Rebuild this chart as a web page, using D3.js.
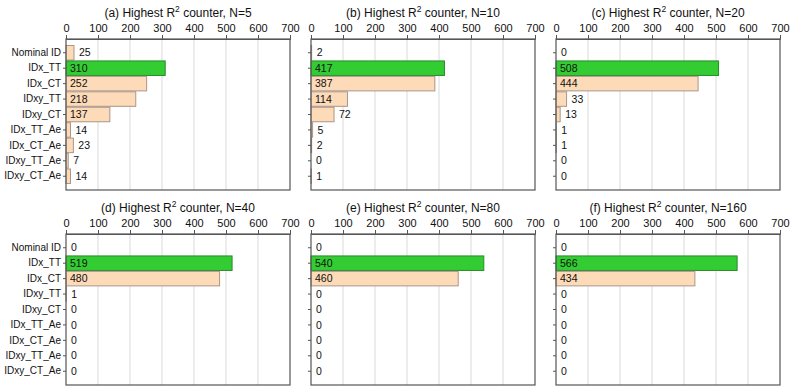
<!DOCTYPE html>
<html>
<head>
  <script src="https://d3js.org/d3.v7.min.js"></script>
  <style>
    body { margin: 0; background: #fff; }
    text { font-family: "Liberation Sans", Arial, sans-serif; fill: #111; }
  </style>
</head>
<body>
  <div id="chart"></div>
  <script>
    var categories = ["Nominal ID", "IDx_TT", "IDx_CT", "IDxy_TT", "IDxy_CT",
                      "IDx_TT_Ae", "IDx_CT_Ae", "IDxy_TT_Ae", "IDxy_CT_Ae"];
    var panelTitles = ["(a)", "(b)", "(c)", "(d)", "(e)", "(f)"];
    var panelN = [5, 10, 20, 40, 80, 160];
    var countsN5   = [25, 310, 252, 218, 137, 14, 23, 7, 14];
    var countsN10  = [2, 417, 387, 114, 72, 5, 2, 0, 1];
    var countsN20  = [0, 508, 444, 33, 13, 1, 1, 0, 0];
    var countsN40  = [0, 519, 480, 1, 0, 0, 0, 0, 0];
    var countsN80  = [0, 540, 460, 0, 0, 0, 0, 0, 0];
    var countsN160 = [0, 566, 434, 0, 0, 0, 0, 0, 0];
    var xTicks = [0, 100, 200, 300, 400, 500, 600, 700];

    var allCounts = [countsN5, countsN10, countsN20, countsN40, countsN80, countsN160];

    var svg = d3.select("#chart")
                .append("svg")
                .attr("width", 793)
                .attr("height", 391);

    var lefts = [66, 311, 556];
    var tops = [39, 234];
    var pw = 224, ph = 151;

    var xScale = d3.scaleLinear().domain([0, 700]).range([0, pw]);
    var yScale = d3.scaleBand().domain(categories)
                   .range([6.5, ph - 6.5]).paddingInner(0.06);

    allCounts.forEach(function(values, i) {
      var col = i % 3, row = Math.floor(i / 3);
      var g = svg.append("g")
                 .attr("transform", `translate(${lefts[col]},${tops[row]})`);
      var rows = categories.map((c, k) => ({ cat: c, v: values[k] }));
      var maxV = d3.max(values);

      // grid
      g.selectAll("line.grid")
       .data(xTicks.slice(1, -1))
       .enter().append("line")
       .attr("class", "grid")
       .attr("x1", d => xScale(d)).attr("x2", d => xScale(d))
       .attr("y1", 0).attr("y2", ph)
       .attr("stroke", "#d9d9d9");

      // bars
      g.selectAll("rect.bar")
       .data(rows)
       .enter().append("rect")
       .attr("class", "bar")
       .attr("x", 0)
       .attr("y", d => yScale(d.cat))
       .attr("width", d => xScale(d.v))
       .attr("height", yScale.bandwidth())
       .attr("fill", d => d.v === maxV ? "#33cc33" : "#fddab8")
       .attr("stroke", d => d.v === maxV ? "#2a8a2a" : "#a8978a")
       .attr("stroke-width", d => d.v > 0 ? 1 : 0);

      // value labels: inside the bar if it fits, else just past its end
      g.selectAll("text.val")
       .data(rows)
       .enter().append("text")
       .attr("class", "val")
       .attr("y", d => yScale(d.cat) + yScale.bandwidth() / 2)
       .attr("dy", "0.35em")
       .style("font-size", "10.5px")
       .text(d => d.v)
       .attr("x", function(d) {
         var w = this.getComputedTextLength();
         var bw = xScale(d.v);
         return bw > w + 12 ? 4 : bw + 5;
       });

      // frame
      g.append("rect")
       .attr("width", pw).attr("height", ph)
       .attr("fill", "none")
       .attr("stroke", "#555")
       .attr("stroke-width", 1.2);

      // top axis
      var ax = g.append("g")
                .call(d3.axisTop(xScale).tickValues(xTicks).tickSize(4).tickPadding(3));
      ax.select(".domain").attr("stroke", "#555");
      ax.selectAll(".tick line").attr("stroke", "#555");
      ax.selectAll("text").style("font-size", "11px").attr("fill", "#111")
        .style("font-family", "'Liberation Sans', Arial, sans-serif");

      // left ticks
      var ay = g.append("g")
                .call(d3.axisLeft(yScale).tickSize(3).tickPadding(2));
      ay.select(".domain").remove();
      ay.selectAll(".tick line").attr("stroke", "#555");
      ay.selectAll("text").style("font-size", "10px").attr("fill", "#111")
        .style("font-family", "'Liberation Sans', Arial, sans-serif");
      if (col !== 0) ay.selectAll("text").remove();

      // title
      var t = g.append("text")
               .attr("x", pw / 2)
               .attr("y", -22)
               .attr("text-anchor", "middle")
               .style("font-size", "12px");
      t.append("tspan").text(panelTitles[i] + " Highest R");
      t.append("tspan").attr("dy", -5).style("font-size", "8.5px").text("2");
      t.append("tspan").attr("dy", 5).text(" counter, N=" + panelN[i]);
    });
  </script>
</body>
</html>
